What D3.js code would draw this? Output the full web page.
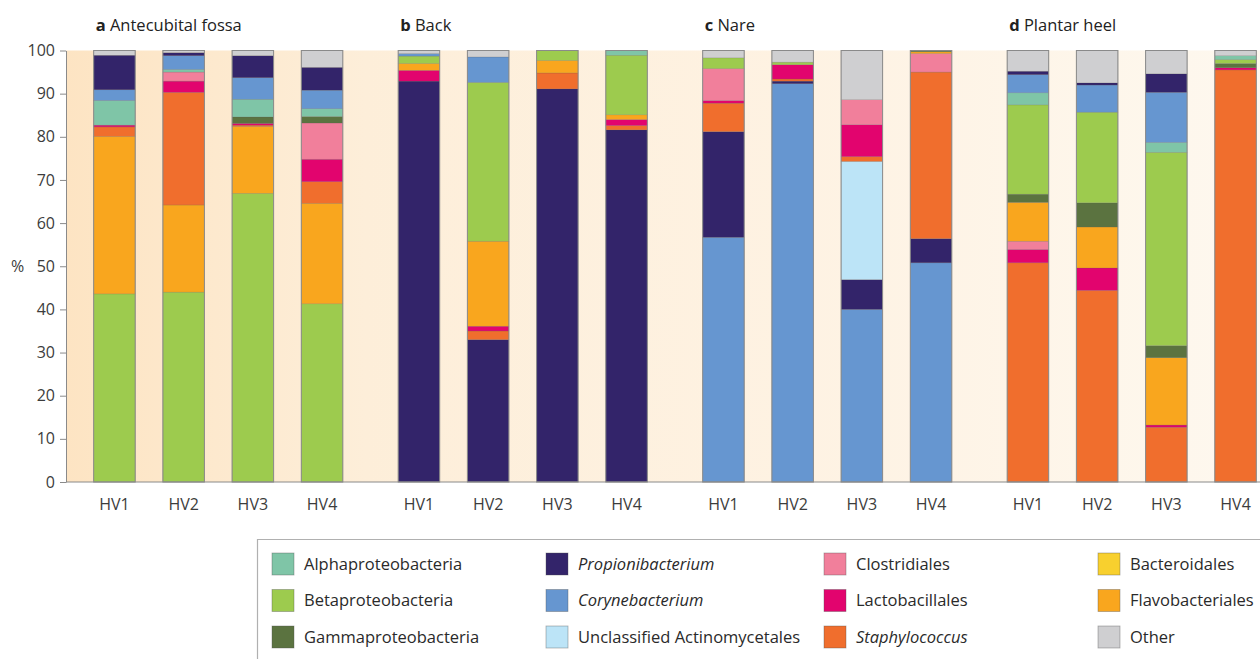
<!DOCTYPE html>
<html>
<head>
<meta charset="utf-8">
<script src="https://cdn.jsdelivr.net/npm/d3@7"></script>
<style>
  html, body { margin: 0; padding: 0; background: #fff; }
  svg { display: block; font-family: "Open Sans", "DejaVu Sans", sans-serif; }
</style>
</head>
<body>
<svg id="chart" width="1260" height="659"></svg>
<script>
// ---------------- data ----------------
const taxonKeys   = ["Alpha", "Beta", "Gamma", "Propi", "Coryne", "Actino", "Clostr", "Lacto", "Staph", "Bactero", "Flavo", "Other"];
const taxonLabels = ["Alphaproteobacteria", "Betaproteobacteria", "Gammaproteobacteria",
                     "Propionibacterium", "Corynebacterium", "Unclassified Actinomycetales",
                     "Clostridiales", "Lactobacillales", "Staphylococcus",
                     "Bacteroidales", "Flavobacteriales", "Other"];
const taxonColors = ["#7fc5a7", "#9dcb4e", "#5b7340", "#33246a", "#6696d0", "#bce4f7",
                     "#f17f9b", "#e2046e", "#f06e2d", "#f8d02e", "#f9a61e", "#cfcfd1"];
const italicTaxa  = ["Propi", "Coryne", "Staph"];

const panelKeys   = ["a", "b", "c", "d"];
const panelTitles = ["Antecubital fossa", "Back", "Nare", "Plantar heel"];
const volunteers  = ["HV1", "HV2", "HV3", "HV4"];
const yTicks      = [0, 10, 20, 30, 40, 50, 60, 70, 80, 90, 100];

// segments of each bar, bottom to top: [taxon, percent]
const antecubitalFossa = [
  [["Beta",43.6],["Flavo",36.5],["Staph",2.2],["Lacto",0.4],["Alpha",5.7],["Coryne",2.5],["Propi",8.0],["Other",1.1]],
  [["Beta",44.0],["Flavo",20.2],["Staph",26.1],["Lacto",2.6],["Clostr",2.1],["Alpha",0.6],["Coryne",3.2],["Propi",0.7],["Other",0.5]],
  [["Beta",66.9],["Flavo",15.5],["Staph",0.3],["Lacto",0.4],["Gamma",1.5],["Alpha",4.1],["Coryne",5.0],["Propi",5.1],["Other",1.2]],
  [["Beta",41.3],["Flavo",23.3],["Staph",5.0],["Lacto",5.2],["Clostr",8.4],["Gamma",1.5],["Alpha",1.8],["Coryne",4.3],["Propi",5.3],["Other",3.9]]
];
const back = [
  [["Propi",92.9],["Lacto",2.5],["Flavo",1.6],["Beta",1.7],["Coryne",0.6],["Other",0.7]],
  [["Propi",33.0],["Staph",2.0],["Lacto",1.1],["Flavo",19.7],["Beta",36.8],["Coryne",5.9],["Other",1.5]],
  [["Propi",91.1],["Staph",3.7],["Flavo",2.9],["Beta",2.3]],
  [["Propi",81.6],["Staph",1.0],["Lacto",1.4],["Flavo",1.1],["Beta",13.8],["Alpha",1.1]]
];
const nare = [
  [["Coryne",56.7],["Propi",24.5],["Staph",6.6],["Lacto",0.6],["Clostr",7.4],["Beta",2.5],["Other",1.7]],
  [["Coryne",92.3],["Propi",0.6],["Staph",0.5],["Lacto",3.3],["Beta",0.6],["Other",2.7]],
  [["Coryne",40.0],["Propi",6.9],["Actino",27.4],["Staph",1.1],["Lacto",7.4],["Clostr",5.8],["Other",11.4]],
  [["Coryne",50.8],["Propi",5.6],["Staph",38.6],["Clostr",4.3],["Flavo",0.4],["Gamma",0.3]]
];
const plantarHeel = [
  [["Staph",50.8],["Lacto",3.1],["Clostr",1.9],["Flavo",9.0],["Gamma",1.9],["Beta",20.7],["Alpha",2.8],["Coryne",4.2],["Propi",0.8],["Other",4.8]],
  [["Staph",44.4],["Lacto",5.2],["Flavo",9.5],["Gamma",5.6],["Beta",21.0],["Coryne",6.3],["Propi",0.5],["Other",7.5]],
  [["Staph",12.7],["Lacto",0.5],["Flavo",15.6],["Gamma",2.8],["Beta",44.8],["Alpha",2.3],["Coryne",11.6],["Propi",4.3],["Other",5.4]],
  [["Staph",95.5],["Lacto",0.5],["Gamma",1.0],["Beta",0.9],["Alpha",0.9],["Other",1.2]]
];
const panelData = [antecubitalFossa, back, nare, plantarHeel];

// ---------------- layout ----------------
const svg = d3.select("#chart");
const W = 1260, H = 659;
const axisX = 66, panelW = 304.5;

const color = d3.scaleOrdinal(taxonKeys, taxonColors);
const label = d3.scaleOrdinal(taxonKeys, taxonLabels);
const y = d3.scaleLinear([0, 100], [482, 50.5]);
const xPanel = d3.scaleBand(panelKeys, [axisX, axisX + panelW * panelKeys.length]).padding(0);
const xBar = d3.scaleBand(volunteers, [0, panelW]).paddingInner(0.4).paddingOuter(0.4);

const defs = svg.append("defs");
const grad = defs.append("linearGradient").attr("id", "bg")
  .attr("gradientUnits", "userSpaceOnUse")
  .attr("x1", axisX).attr("x2", W).attr("y1", 0).attr("y2", 0);
grad.append("stop").attr("offset", "0%").attr("stop-color", "#fde4c3");
grad.append("stop").attr("offset", "25%").attr("stop-color", "#fdeed9");
grad.append("stop").attr("offset", "60%").attr("stop-color", "#fef2e2");
grad.append("stop").attr("offset", "100%").attr("stop-color", "#fef8ef");

// plot background
svg.append("rect")
  .attr("x", axisX).attr("y", y(100))
  .attr("width", W - axisX).attr("height", y(0) - y(100))
  .attr("fill", "url(#bg)");

// bars
panelKeys.forEach((pk, pi) => {
  const g = svg.append("g").attr("transform", `translate(${xPanel(pk)},0)`);
  panelData[pi].forEach((segs, bi) => {
    const ends = d3.cumsum(segs, s => s[1]);
    const rows = segs.map((s, i) => ({ key: s[0], y0: i ? ends[i - 1] : 0, y1: ends[i] }));
    const bx = xBar(volunteers[bi]);
    const bg = g.append("g");
    bg.selectAll("rect").data(rows).join("rect")
      .attr("x", bx).attr("width", xBar.bandwidth())
      .attr("y", d => y(d.y1)).attr("height", d => y(d.y0) - y(d.y1))
      .attr("fill", d => color(d.key))
      .attr("stroke", "rgba(90,90,90,0.35)").attr("stroke-width", 0.5);
    bg.append("rect")
      .attr("x", bx).attr("width", xBar.bandwidth())
      .attr("y", y(ends[ends.length - 1])).attr("height", y(0) - y(ends[ends.length - 1]))
      .attr("fill", "none").attr("stroke", "#8a8a8a").attr("stroke-width", 1);
  });
  // volunteer labels
  g.selectAll("text.hv").data(volunteers).join("text").attr("class", "hv")
    .attr("x", d => xBar(d) + xBar.bandwidth() / 2).attr("y", 510)
    .attr("text-anchor", "middle").attr("font-size", 16).attr("fill", "#3c3c3c")
    .text(d => d);
  // panel title
  const t = g.append("text").attr("x", xBar(volunteers[0]) + 2).attr("y", 31)
    .attr("font-size", 16.5).attr("fill", "#222");
  t.append("tspan").attr("font-weight", "bold").text(pk);
  t.append("tspan").text(" " + panelTitles[pi]);
});

// y axis
const yAxis = svg.append("g").attr("transform", `translate(${axisX},0)`)
  .call(d3.axisLeft(y).tickValues(yTicks).tickSize(6).tickSizeOuter(0).tickPadding(5));
yAxis.select(".domain").attr("stroke", "#8a8a8a");
yAxis.selectAll(".tick line").attr("stroke", "#8a8a8a");
yAxis.selectAll(".tick text").attr("font-size", 16).attr("fill", "#3c3c3c")
  .attr("font-family", "'Open Sans', sans-serif");
svg.append("text").attr("x", 11).attr("y", y(50)).attr("dy", "0.35em")
  .attr("font-size", 16).attr("fill", "#3c3c3c").text("%");

// baseline
svg.append("line").attr("x1", axisX).attr("x2", W).attr("y1", y(0)).attr("y2", y(0))
  .attr("stroke", "#8a8a8a").attr("stroke-width", 1);

// legend
const legendCols = [272, 546, 824, 1098];
const legendRows = [553, 589.5, 626];
const lg = svg.append("g");
lg.append("path").attr("d", `M${W},539.5 H257.5 V${H}`)
  .attr("fill", "none").attr("stroke", "#b0b0b0").attr("stroke-width", 1.2);
const items = lg.selectAll("g.item").data(taxonKeys).join("g").attr("class", "item")
  .attr("transform", (d, i) => `translate(${legendCols[Math.floor(i / 3)]},${legendRows[i % 3]})`);
items.append("rect").attr("width", 22).attr("height", 22)
  .attr("fill", d => color(d)).attr("stroke", "rgba(80,80,80,0.45)").attr("stroke-width", 0.8);
items.append("text").attr("x", 32).attr("y", 11).attr("dy", "0.35em")
  .attr("font-size", 16.5).attr("fill", "#2a2a2a")
  .attr("font-style", d => italicTaxa.includes(d) ? "italic" : "normal")
  .text(d => label(d));
</script>
</body>
</html>
